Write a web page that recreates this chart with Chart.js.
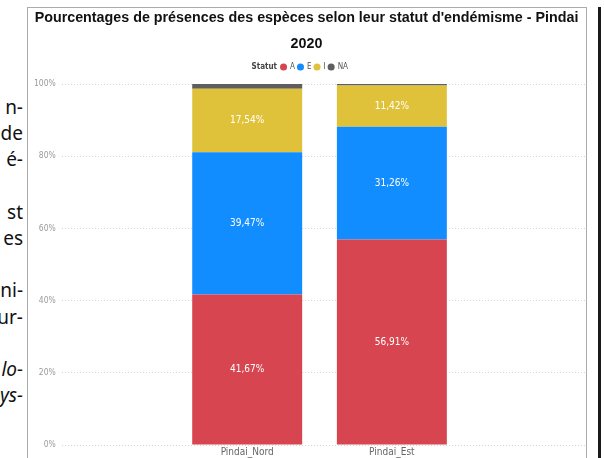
<!DOCTYPE html>
<html>
<head>
<meta charset="utf-8">
<script src="https://cdn.jsdelivr.net/npm/chart.js@4/dist/chart.umd.min.js"></script>
<style>
  html, body { margin: 0; padding: 0; background: #fff; overflow: hidden; }
  body { width: 604px; height: 458px; position: relative; }
  #side { position: absolute; right: 581px; top: 94px; width: 60px; text-align: right;
          font-family: 'Noto Sans', 'Open Sans', sans-serif; font-size: 19px; line-height: 26.2px; color: #111; white-space: nowrap; }
  #box { position: absolute; left: 27px; top: 7px; width: 558px; height: 470px;
         border: 1px solid #ababab; border-bottom: none; }
  #edge { position: absolute; left: 598px; top: 7px; width: 3px; height: 460px; background: #1a1a1a; }
  #wrap { position: absolute; left: 28px; top: 0; width: 558px; height: 460px; }
</style>
</head>
<body>
<div id="side">n-<br>de<br>é-<br>&nbsp;<br>st<br>es<br>&nbsp;<br>ni-<br>ur-<br>&nbsp;<br><i>lo-</i><br><i>ys-</i></div>
<div id="box"></div>
<div id="edge"></div>
<div id="wrap"><canvas id="c"></canvas></div>
<script>
const sites = ['Pindai_Nord', 'Pindai_Est'];
const statuts = ['A', 'E', 'I', 'NA'];
const valA = [41.67, 56.91];
const valE = [39.47, 31.26];
const valI = [17.54, 11.42];
const valNA = [1.32, 0.41];
const couleurs = ['#D64550', '#118DFF', '#E0C23A', '#5E5E5E'];
const yTicks = [0, 20, 40, 60, 80, 100];

const narrow = "'Liberation Sans Narrow', 'DejaVu Sans Condensed', 'Liberation Sans', sans-serif";

const series = [valA, valE, valI, valNA];
const datasets = series.map((vals, k) => ({
    label: statuts[k],
    data: vals.map((v, i) => ({ x: i, y: v })),
    backgroundColor: couleurs[k],
    borderWidth: 0,
    categoryPercentage: 1,
    barPercentage: 0.76
}));

// etiquettes blanches au milieu des barres (pas pour NA)
const valueLabels = {
    id: 'valueLabels',
    afterDatasetsDraw(chart) {
        const ctx = chart.ctx;
        ctx.save();
        ctx.fillStyle = '#fff';
        ctx.font = "10px " + narrow;
        ctx.textAlign = 'center';
        ctx.textBaseline = 'middle';
        chart.data.datasets.forEach((ds, k) => {
            if (ds.label === 'NA') return;
            chart.getDatasetMeta(k).data.forEach((bar, i) => {
                const p = bar.getProps(['x', 'y', 'base'], true);
                ctx.fillText(ds.data[i].y.toFixed(2).replace('.', ',') + '%', p.x, (p.y + p.base) / 2);
            });
        });
        ctx.restore();
    }
};

// "Statut" devant la légende + un peu d'espace sous la légende
const legendTitle = {
    id: 'legendTitle',
    afterInit(chart) {
        const lg = chart.legend;
        const fit = lg.fit.bind(lg);
        lg.fit = function () { fit(); this.height += 3; };
    },
    afterLayout(chart) {
        chart.legend.left += 8;
        chart.legend.right += 8;
    },
    afterDraw(chart) {
        const it = chart.legend.legendHitBoxes[0];
        if (!it) return;
        const ctx = chart.ctx;
        ctx.save();
        ctx.fillStyle = '#444';
        ctx.font = "bold 8px " + narrow;
        ctx.textAlign = 'right';
        ctx.textBaseline = 'middle';
        ctx.fillText('Statut', it.left - 4, it.top + it.height / 2);
        ctx.restore();
    }
};

new Chart(document.getElementById('c'), {
    type: 'bar',
    data: { datasets },
    plugins: [valueLabels, legendTitle],
    options: {
        responsive: true, maintainAspectRatio: false, animation: false,
        layout: { padding: { top: 5, left: 0, right: 1, bottom: 1 } },
        plugins: {
            title: {
                display: true,
                text: ["Pourcentages de présences des espèces selon leur statut d'endémisme - Pindai", '2020'],
                color: '#111',
                font: { family: "'Liberation Sans', Arial, sans-serif", size: 14.3, weight: 'bold', lineHeight: 1.82 },
                padding: { top: 0, bottom: 3 }
            },
            legend: {
                display: true,
                labels: {
                    usePointStyle: true, pointStyle: 'circle', boxWidth: 5, boxHeight: 5,
                    color: '#555', font: { family: narrow, size: 8 }, padding: 3
                }
            },
            tooltip: { enabled: false }
        },
        scales: {
            x: {
                type: 'linear', stacked: true, offset: false, min: -1.281, max: 2.335,
                afterBuildTicks: s => { s.ticks = sites.map((_, i) => ({ value: i })); },
                ticks: { callback: v => sites[v], color: '#666', font: { family: narrow, size: 10 }, padding: 1, maxRotation: 0 },
                grid: { display: false, drawTicks: false, offset: false }, border: { display: false }
            },
            y: {
                stacked: true, min: 0, max: 100,
                afterBuildTicks: s => { s.ticks = yTicks.map(v => ({ value: v })); },
                ticks: { callback: v => v + '%', color: '#9a9a9a', font: { family: narrow, size: 8.5 }, padding: 6 },
                grid: { color: '#d6d6d6', drawTicks: false, lineWidth: 1 },
                border: { display: false, dash: [1, 2] }
            }
        }
    }
});
</script>
</body>
</html>
